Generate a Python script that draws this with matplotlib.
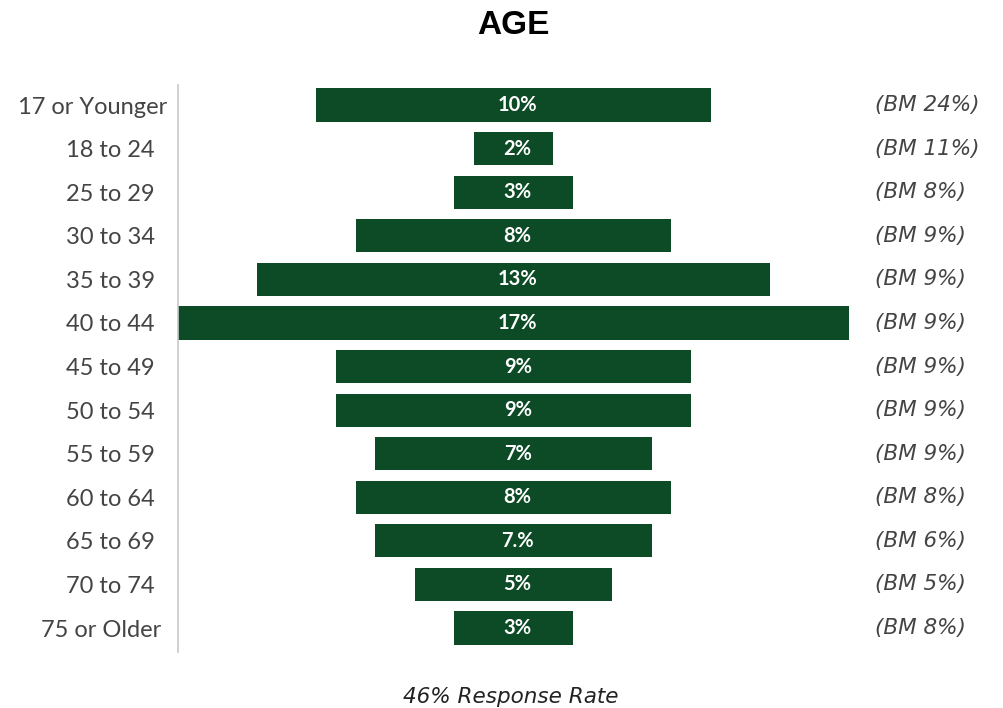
import matplotlib
matplotlib.use("Agg")
import matplotlib.pyplot as plt
import matplotlib.transforms as mtransforms

# age brackets, share of respondents and benchmark share
age_groups = ["17 or Younger", "18 to 24  ", "25 to 29  ", "30 to 34  ", "35 to 39  ",
              "40 to 44  ", "45 to 49  ", "50 to 54  ", "55 to 59  ", "60 to 64  ",
              "65 to 69  ", "70 to 74  ", "75 or Older "]
shares = [10, 2, 3, 8, 13, 17, 9, 9, 7, 8, 7, 5, 3]
share_labels = ["10%", "2%", "3%", "8%", "13%", "17%", "9%", "9%", "7%", "8%", "7.%", "5%", "3%"]
benchmarks = ["24%", "11%", "8%", "9%", "9%", "9%", "9%", "9%", "9%", "8%", "6%", "5%", "8%"]

GREEN = "#0d4b27"
GREY = "#444444"

plt.rcParams["font.family"] = ["Lato", "DejaVu Sans"]

fig = plt.figure(figsize=(10.04, 7.08), dpi=100)
ax = fig.add_axes([178 / 1004, 1 - 652 / 708, 671 / 1004, 567 / 708])

ypos = list(range(len(shares)))
lefts = [-v / 2 for v in shares]
ax.barh(ypos, shares, left=lefts, height=0.76, color=GREEN)

for y, lab in zip(ypos, share_labels):
    ax.annotate(lab, (0, y), xytext=(3, 0), textcoords="offset points",
                ha="center", va="center", color="white", fontsize=14.5,
                fontweight="bold")

# benchmark notes sit in a column to the right of the bars
trans = mtransforms.blended_transform_factory(fig.transFigure, ax.transData)
for y, bm in zip(ypos, benchmarks):
    ax.text(875 / 1004, y, f"(BM {bm})", transform=trans, ha="left", va="center",
            color=GREY, fontsize=15.5, style="italic", clip_on=False,
            family=["DejaVu Sans"])

ax.set_xlim(-8.5, 8.5)
ax.set_ylim(len(shares) - 0.45, -0.46)
ax.set_yticks(ypos)
ax.set_yticklabels(age_groups, fontsize=17, color=GREY)
ax.tick_params(axis="y", length=0, pad=8)
ax.set_xticks([])
for side in ["top", "right", "bottom"]:
    ax.spines[side].set_visible(False)
ax.spines["left"].set_color("#c8c8c8")
ax.spines["left"].set_linewidth(1.2)

fig.text(513 / 1004, 1 - 25 / 708, "AGE", ha="center", va="center",
         fontsize=24, fontweight="bold", family=["Liberation Sans", "DejaVu Sans"])
fig.text(511 / 1004, 1 - 697 / 708, "46% Response Rate", ha="center", va="center",
         fontsize=15.5, style="italic", color="#222222",
         family=["DejaVu Sans"])

fig.savefig("out.png", dpi=100)
